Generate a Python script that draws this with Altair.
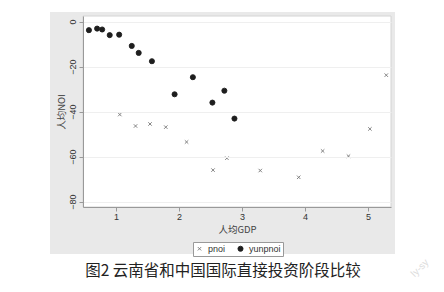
import altair as alt
import pandas as pd

# 云南 (yunpnoi)
gdp_yun = [0.57, 0.70, 0.78, 0.90, 1.05, 1.25, 1.36, 1.57, 1.93, 2.22, 2.53, 2.72, 2.88]
noi_yun = [-3.8, -3.1, -3.5, -6.0, -5.8, -10.8, -13.9, -17.6, -32.3, -24.7, -36.0, -30.7, -43.1]
# 中国 (pnoi)
gdp_cn = [1.06, 1.31, 1.54, 1.79, 2.12, 2.54, 2.76, 3.29, 3.90, 4.28, 4.69, 5.03, 5.29]
noi_cn = [-41.3, -46.4, -45.5, -46.9, -53.5, -66.0, -60.7, -66.2, -69.2, -57.5, -59.8, -47.7, -23.8]

series_names = ["pnoi", "yunpnoi"]
x_ticks = [1, 2, 3, 4, 5]
y_ticks = [0, -20, -40, -60, -80]
caption = "图2  云南省和中国国际直接投资阶段比较"

df = pd.DataFrame({
    "gdp": gdp_cn + gdp_yun,
    "noi": noi_cn + noi_yun,
    "series": ["pnoi"] * len(gdp_cn) + ["yunpnoi"] * len(gdp_yun),
})

XPATH = "M-1,-1L1,1M-1,1L1,-1"
W, H = 308, 191
dummy = pd.DataFrame({"a": [0]})

bg = alt.Chart(dummy).mark_rect(color="#e9e9e9").encode(
    x=alt.value(-33), x2=alt.value(312), y=alt.value(-4), y2=alt.value(238)
)
plotbg = alt.Chart(dummy).mark_rect(fill="white", stroke="#d4d4d4", strokeWidth=1).encode(
    x=alt.value(0), x2=alt.value(W), y=alt.value(0), y2=alt.value(H)
)

legend = alt.Legend(
    orient="none", legendX=110, legendY=226, direction="horizontal",
    strokeColor="#999", fillColor="white", padding=2, labelFontSize=9,
    labelFont="Liberation Sans", labelColor="#333", symbolSize=16,
    symbolStrokeWidth=0.9, columnPadding=10, labelOffset=4,
)

points = alt.Chart(df).mark_point(filled=True, strokeWidth=0.9, opacity=1).encode(
    x=alt.X("gdp:Q", scale=alt.Scale(domain=[0.476, 5.365], nice=False, zero=False),
            axis=alt.Axis(values=x_ticks, title="人均GDP", tickSize=4, labelPadding=1,
                          labelFontSize=9, labelFont="Liberation Sans", labelColor="#333",
                          titleFont="Noto Sans CJK SC", titleFontSize=9.5, titleFontWeight="normal",
                          titleColor="#444", titlePadding=3, domainColor="#999", tickColor="#999",
                          grid=False, zindex=1)),
    y=alt.Y("noi:Q", scale=alt.Scale(domain=[-82.4, 2.5], nice=False, zero=False),
            axis=alt.Axis(values=y_ticks, title="人均NOI", tickSize=4, labelPadding=2,
                          labelAngle=270, labelAlign="center", labelBaseline="bottom",
                          labelFontSize=9, labelFont="Liberation Sans", labelColor="#333",
                          titleFont="Noto Sans CJK SC", titleFontSize=9.5, titleFontWeight="normal",
                          titleColor="#444", titlePadding=2, domainColor="#999", tickColor="#999",
                          grid=True, gridColor="#efefef", zindex=1)),
    shape=alt.Shape("series:N", title=None,
                    scale=alt.Scale(domain=series_names, range=[XPATH, "circle"]), legend=legend),
    color=alt.Color("series:N", title=None,
                    scale=alt.Scale(domain=series_names, range=["#777777", "#1e1e1e"]), legend=legend),
    stroke=alt.Stroke("series:N", title=None,
                      scale=alt.Scale(domain=series_names, range=["#777777", "#1e1e1e"]), legend=legend),
    size=alt.Size("series:N", scale=alt.Scale(domain=series_names, range=[12, 26]), legend=None),
)

cap = alt.Chart(dummy).mark_text(
    text=caption, font="Noto Sans CJK SC", fontSize=15.5, color="#222",
    align="center", baseline="middle"
).encode(x=alt.value(140), y=alt.value(254.5))

wm = alt.Chart(dummy).mark_text(
    text="ly-sy", font="Liberation Sans", fontSize=10, color="#dcdcdc",
    align="center", baseline="middle", angle=315
).encode(x=alt.value(337), y=alt.value(252))

chart = alt.layer(bg, plotbg, points, cap, wm).properties(
    width=W, height=H,
    autosize=alt.AutoSizeParams(type="none"),
    padding={"left": 83, "top": 16, "right": 53, "bottom": 85},
    background="white",
).configure_view(stroke=None)

chart.save("out.html", embed_options={"renderer": "svg", "actions": False})
